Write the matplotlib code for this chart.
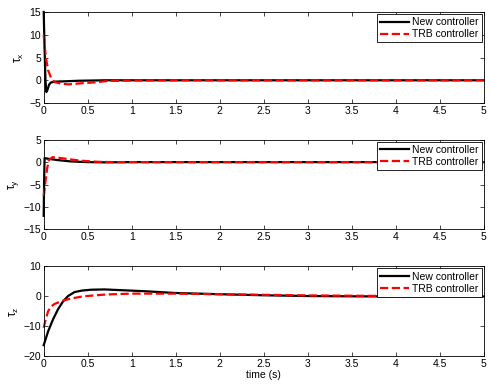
import numpy as np
import matplotlib.pyplot as plt

plt.rcParams['font.family'] = ['Liberation Sans', 'DejaVu Sans']
plt.rcParams['mathtext.fontset'] = 'custom'
plt.rcParams['mathtext.rm'] = 'Liberation Sans'

# tau_x
tx_new_t = [0, 0.01, 0.02, 0.03, 0.045, 0.06, 0.08, 0.12, 0.2, 0.4, 0.7, 1.0, 2.0, 3.0, 4.0, 5.0]
tx_new = [15, 7, 0, -2.6, -2.0, -1.0, -0.5, -0.3, -0.25, -0.1, 0, 0, 0, 0, 0, 0]
tx_trb_t = [0, 0.011, 0.03, 0.05, 0.087, 0.125, 0.2, 0.28, 0.43, 0.58, 0.73, 1.0, 1.5, 2.0, 3.0, 4.0, 5.0]
tx_trb = [10, 7.4, 4.4, 2.2, 0.4, -0.4, -0.75, -0.9, -0.65, -0.45, -0.15, -0.05, 0, 0, 0, 0, 0]

# tau_y
ty_new_t = [0, 0.005, 0.01, 0.05, 0.16, 0.31, 0.5, 0.7, 1.0, 2.0, 3.0, 4.0, 5.0]
ty_new = [-12, -4, 0.9, 0.75, 0.45, 0.15, 0, -0.05, 0, 0, 0, 0, 0]
ty_trb_t = [0, 0.02, 0.04, 0.06, 0.1, 0.16, 0.28, 0.43, 0.62, 0.8, 1.0, 2.0, 3.0, 4.0, 5.0]
ty_trb = [-7.6, -4.3, -1.3, 0.5, 1.1, 1.0, 0.67, 0.3, 0.07, 0, 0, 0, 0, 0, 0]

# tau_z
tz_new_t = [0, 0.05, 0.106, 0.163, 0.22, 0.277, 0.35, 0.43, 0.54, 0.69, 0.92, 1.15, 1.5, 2.0, 2.5, 3.0, 3.5, 4.0, 5.0]
tz_new = [-16.3, -11.7, -7.7, -4.3, -1.7, 0.1, 1.4, 1.9, 2.2, 2.3, 2.0, 1.7, 1.1, 0.7, 0.35, 0.1, 0.0, -0.05, -0.05]
tz_trb_t = [0, 0.02, 0.05, 0.08, 0.12, 0.2, 0.3, 0.45, 0.7, 1.0, 1.5, 2.0, 2.5, 3.0, 3.5, 4.0, 5.0]
tz_trb = [-10.5, -8, -5, -3.5, -2.6, -1.6, -0.8, 0, 0.6, 0.9, 0.9, 0.7, 0.5, 0.3, 0.2, 0.1, 0.05]

xticks = [0, 0.5, 1, 1.5, 2, 2.5, 3, 3.5, 4, 4.5, 5]
xticklabels = ['0', '0.5', '1', '1.5', '2', '2.5', '3', '3.5', '4', '4.5', '5']

panels = [
    (r'$\mathregular{\tau_x}$', tx_new_t, tx_new, tx_trb_t, tx_trb, (-5, 15), [-5, 0, 5, 10, 15]),
    (r'$\mathregular{\tau_y}$', ty_new_t, ty_new, ty_trb_t, ty_trb, (-15, 5), [-15, -10, -5, 0, 5]),
    (r'$\mathregular{\tau_z}$', tz_new_t, tz_new, tz_trb_t, tz_trb, (-20, 10), [-20, -10, 0, 10]),
]

fig = plt.figure(figsize=(4.91, 3.86), dpi=100)
rects = [(0.089, 0.733, 0.896, 0.236),
         (0.089, 0.406, 0.896, 0.232),
         (0.089, 0.077, 0.896, 0.233)]

for rect, (lab, t1, y1, t2, y2, ylim, yt) in zip(rects, panels):
    ax = fig.add_axes(rect)
    ax.plot(t1, y1, color='k', lw=1.6, label='New controller', clip_on=False)
    ax.plot(t2, y2, color='r', lw=1.6, ls='--', label='TRB controller', clip_on=False)
    ax.set_xlim(0, 5)
    ax.set_ylim(*ylim)
    ax.set_xticks(xticks)
    ax.set_xticklabels(xticklabels)
    ax.set_yticks(yt)
    ax.tick_params(direction='in', top=True, right=True, labelsize=7.5,
                   length=3, width=0.5, pad=2)
    for s in ax.spines.values():
        s.set_linewidth(0.6)
    ax.set_ylabel(lab, fontsize=8.5, labelpad=2)
    leg = ax.legend(loc='upper right', fontsize=7.5, fancybox=False,
                    edgecolor='k', framealpha=1, handlelength=2.8,
                    borderaxespad=0.2, borderpad=0.3, labelspacing=0.2,
                    handletextpad=0.3)
    leg.get_frame().set_linewidth(0.6)

ax.set_xlabel('time (s)', fontsize=7.5, labelpad=1)

fig.savefig('out.png', dpi=100, facecolor='white')
